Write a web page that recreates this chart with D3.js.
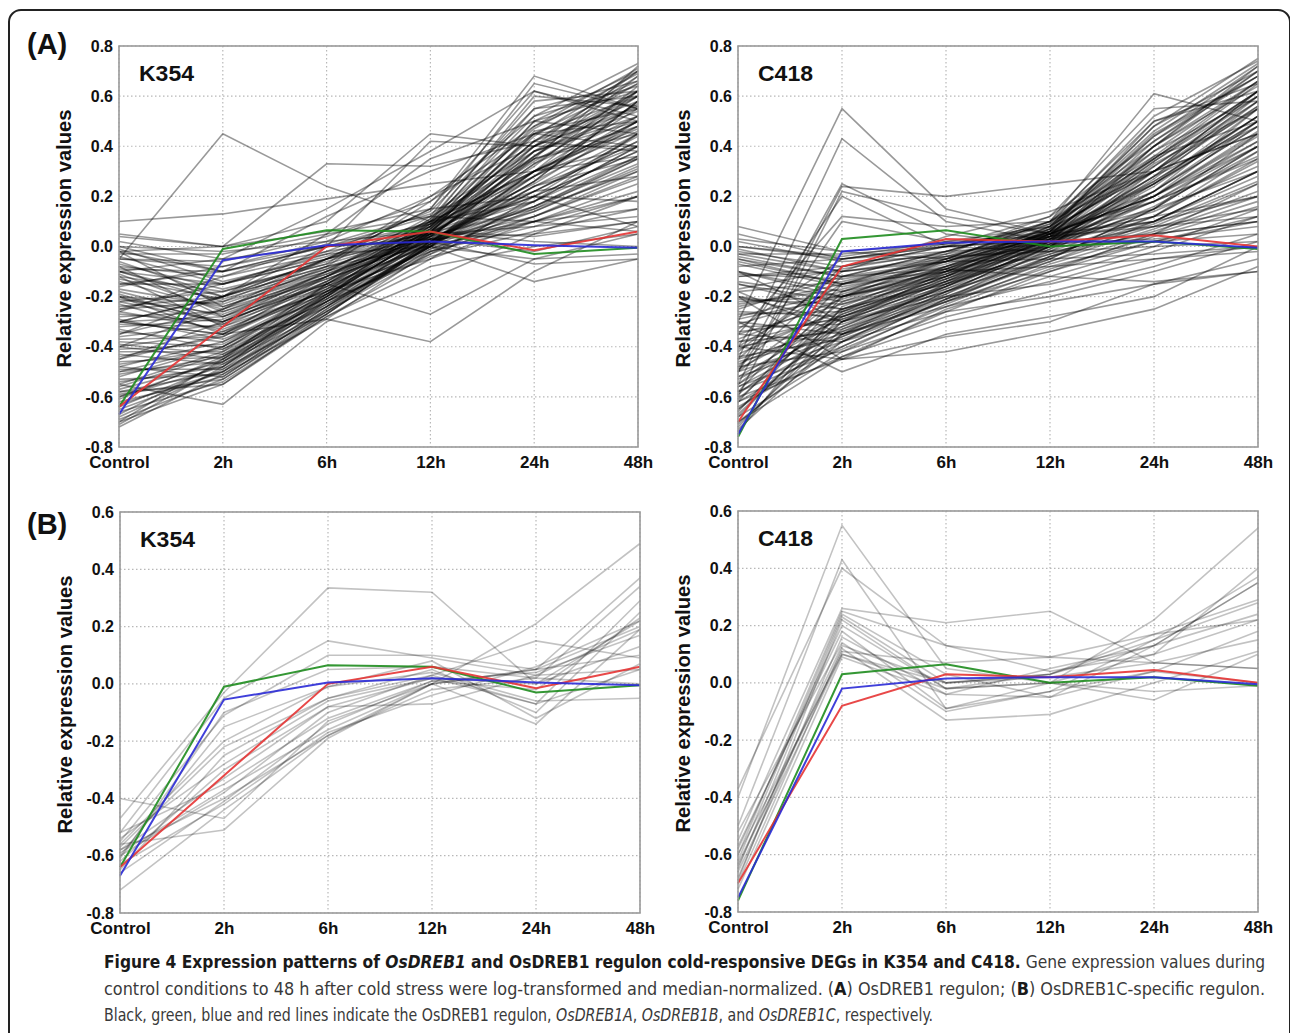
<!DOCTYPE html>
<html>
<head>
<meta charset="utf-8">
<script src="https://cdn.jsdelivr.net/npm/d3@7"></script>
<style>
  body { margin: 0; background: #fff; }
  svg { display: block; }
  .tick-label { font-family: "Liberation Sans", Arial, sans-serif; font-weight: bold; fill: #111; }
  .caption { font-family: "Liberation Sans Narrow", "DejaVu Sans Condensed", "Liberation Sans", sans-serif; font-size: 18px; fill: #3a3a3a; }
</style>
</head>
<body>
<script>
// time points on the x axis
const timePoints = ["Control", "2h", "6h", "12h", "24h", "48h"];
const yTicksA = [-0.8, -0.6, -0.4, -0.2, 0.0, 0.2, 0.4, 0.6, 0.8];
const yTicksB = [-0.8, -0.6, -0.4, -0.2, 0.0, 0.2, 0.4, 0.6];

// OsDREB1A / 1B / 1C profiles (same genes in A and B)
const k354Dreb1A = [-0.64, -0.01, 0.065, 0.06, -0.03, -0.005];
const k354Dreb1B = [-0.67, -0.055, 0.005, 0.02, 0.005, -0.005];
const k354Dreb1C = [-0.64, -0.32, 0.0, 0.06, -0.015, 0.06];
const c418Dreb1A = [-0.76, 0.03, 0.065, 0.0, 0.02, -0.01];
const c418Dreb1B = [-0.75, -0.02, 0.015, 0.02, 0.02, -0.005];
const c418Dreb1C = [-0.70, -0.08, 0.03, 0.02, 0.045, 0.0];

// (A) OsDREB1 regulon, K354
const k354Regulon = [
  [0.10, 0.13, 0.19, 0.25, 0.30, 0.36], [-0.05, 0.45, 0.24, 0.10, 0.30, 0.50],
  [-0.55, -0.63, -0.30, -0.13, 0.05, 0.20], [-0.02, 0.00, 0.33, 0.32, 0.42, 0.38],
  [-0.30, -0.35, -0.29, -0.38, -0.10, 0.10], [-0.20, -0.30, -0.15, -0.27, -0.05, 0.05],
  [0.05, 0.00, 0.10, 0.45, 0.40, 0.55], [-0.10, -0.05, 0.15, 0.38, 0.62, 0.50],
  [-0.40, -0.25, -0.05, 0.15, 0.68, 0.55], [-0.30, -0.20, -0.08, 0.00, -0.14, -0.05],
  [-0.02, -0.10, -0.02, 0.05, 0.20, 0.45], [-0.04, -0.15, -0.05, 0.08, 0.30, 0.55],
  [-0.06, -0.20, -0.08, 0.04, 0.15, 0.35], [-0.08, -0.12, -0.03, 0.10, 0.40, 0.62],
  [-0.10, -0.22, -0.10, 0.02, 0.12, 0.30], [-0.12, -0.18, -0.06, 0.06, 0.25, 0.50],
  [-0.14, -0.25, -0.12, 0.03, 0.22, 0.42], [-0.16, -0.08, 0.00, 0.12, 0.35, 0.48],
  [-0.18, -0.28, -0.15, 0.00, 0.10, 0.25], [-0.20, -0.23, -0.09, 0.07, 0.45, 0.65],
  [-0.22, -0.30, -0.14, 0.05, 0.28, 0.58], [-0.24, -0.20, -0.05, 0.10, 0.18, 0.40],
  [-0.26, -0.33, -0.18, -0.02, 0.08, 0.20], [-0.28, -0.26, -0.11, 0.04, 0.33, 0.60],
  [-0.30, -0.35, -0.16, 0.08, 0.50, 0.70], [-0.32, -0.29, -0.13, 0.02, 0.14, 0.32],
  [-0.34, -0.38, -0.20, 0.00, 0.24, 0.45], [-0.36, -0.31, -0.12, 0.06, 0.38, 0.52],
  [-0.38, -0.40, -0.19, 0.03, 0.20, 0.38], [-0.40, -0.34, -0.14, 0.09, 0.55, 0.66],
  [-0.42, -0.42, -0.22, -0.04, 0.06, 0.15], [-0.44, -0.36, -0.15, 0.05, 0.30, 0.62],
  [-0.46, -0.44, -0.21, 0.02, 0.26, 0.48], [-0.48, -0.38, -0.17, 0.07, 0.42, 0.58],
  [-0.50, -0.46, -0.24, 0.01, 0.16, 0.35], [-0.52, -0.40, -0.18, 0.04, 0.35, 0.72],
  [-0.54, -0.48, -0.23, 0.00, 0.22, 0.42], [-0.56, -0.43, -0.20, 0.06, 0.46, 0.55],
  [-0.58, -0.50, -0.26, -0.03, 0.12, 0.28], [-0.60, -0.45, -0.19, 0.05, 0.32, 0.64],
  [-0.62, -0.52, -0.25, 0.02, 0.28, 0.50], [-0.64, -0.47, -0.22, 0.03, 0.40, 0.60],
  [-0.66, -0.54, -0.28, -0.05, 0.10, 0.22], [-0.68, -0.49, -0.21, 0.04, 0.36, 0.68],
  [-0.70, -0.55, -0.27, 0.01, 0.18, 0.45], [-0.72, -0.51, -0.24, 0.05, 0.50, 0.62],
  [0.00, -0.02, 0.02, 0.06, 0.04, 0.10], [0.02, -0.05, 0.00, 0.03, -0.02, 0.08],
  [-0.03, -0.03, 0.05, 0.12, 0.10, 0.15], [0.04, 0.00, 0.06, 0.15, 0.20, 0.18],
  [-0.05, -0.06, 0.04, 0.18, 0.45, 0.40], [-0.15, -0.10, 0.00, 0.02, -0.07, -0.05],
  [-0.25, -0.15, -0.03, 0.00, -0.05, -0.03], [-0.35, -0.20, -0.05, 0.06, 0.02, 0.00],
  [-0.45, -0.30, -0.10, 0.12, 0.65, 0.55], [-0.25, -0.22, -0.05, 0.15, 0.62, 0.52],
  [-0.55, -0.42, -0.15, 0.10, 0.60, 0.56], [-0.15, -0.15, -0.02, 0.14, 0.55, 0.60],
  [-0.60, -0.48, -0.20, 0.06, 0.20, 0.08], [-0.10, -0.15, -0.05, 0.03, 0.05, 0.10],
  [-0.30, -0.28, -0.10, 0.05, 0.08, 0.12], [-0.50, -0.40, -0.16, 0.03, 0.10, 0.06],
  [-0.65, -0.50, -0.22, 0.00, 0.30, 0.40], [-0.05, -0.08, 0.02, 0.20, 0.40, 0.70],
  [-0.35, -0.25, -0.08, 0.18, 0.52, 0.73], [-0.20, -0.35, -0.17, 0.01, 0.24, 0.35],
  [-0.40, -0.45, -0.23, -0.02, 0.15, 0.30], [-0.08, -0.28, -0.12, 0.06, 0.35, 0.45],
  [-0.12, -0.32, -0.18, -0.05, 0.20, 0.38], [-0.02, -0.24, -0.10, 0.10, 0.30, 0.48],
  [-0.70, -0.45, -0.15, 0.08, 0.45, 0.50], [-0.58, -0.55, -0.28, -0.08, 0.00, 0.05],
  [-0.48, -0.52, -0.25, 0.00, 0.38, 0.62], [-0.22, -0.18, -0.07, 0.20, 0.48, 0.66],
  [-0.10, -0.20, 0.05, 0.35, 0.50, 0.45], [0.00, -0.10, 0.12, 0.30, 0.45, 0.60],
  [-0.30, -0.20, 0.00, 0.42, 0.40, 0.40],
  [-0.01, -0.14, -0.04, 0.09, 0.28, 0.52], [-0.07, -0.17, -0.07, 0.05, 0.18, 0.40],
  [-0.11, -0.26, -0.13, 0.02, 0.26, 0.58], [-0.13, -0.21, -0.09, 0.08, 0.42, 0.68],
  [-0.17, -0.24, -0.11, 0.04, 0.16, 0.33], [-0.19, -0.31, -0.16, 0.01, 0.30, 0.50],
  [-0.21, -0.27, -0.12, 0.09, 0.36, 0.62], [-0.23, -0.34, -0.19, -0.01, 0.12, 0.27],
  [-0.27, -0.30, -0.15, 0.06, 0.40, 0.56], [-0.29, -0.37, -0.21, 0.02, 0.22, 0.44],
  [-0.31, -0.32, -0.14, 0.11, 0.47, 0.69], [-0.33, -0.41, -0.22, -0.03, 0.18, 0.36],
  [-0.37, -0.36, -0.17, 0.07, 0.34, 0.57], [-0.39, -0.43, -0.24, 0.00, 0.28, 0.46],
  [-0.41, -0.39, -0.18, 0.08, 0.44, 0.70], [-0.43, -0.47, -0.26, -0.01, 0.14, 0.31],
  [-0.47, -0.41, -0.19, 0.05, 0.36, 0.60], [-0.49, -0.49, -0.27, 0.02, 0.24, 0.40],
  [-0.51, -0.44, -0.20, 0.10, 0.52, 0.64], [-0.53, -0.51, -0.29, -0.02, 0.10, 0.20],
  [-0.57, -0.46, -0.22, 0.04, 0.33, 0.52], [-0.59, -0.53, -0.27, 0.01, 0.26, 0.58],
  [-0.61, -0.44, -0.18, 0.09, 0.48, 0.71], [-0.63, -0.50, -0.24, 0.00, 0.16, 0.36],
  [-0.67, -0.46, -0.20, 0.06, 0.38, 0.54], [-0.69, -0.53, -0.26, 0.02, 0.30, 0.47],
  [-0.71, -0.48, -0.19, 0.07, 0.42, 0.65], [-0.09, -0.10, 0.00, 0.09, 0.22, 0.28],
  [-0.26, -0.12, 0.01, 0.13, 0.38, 0.50], [-0.45, -0.35, -0.12, 0.11, 0.58, 0.62]
];

// (A) OsDREB1 regulon, C418
const c418Regulon = [
  [-0.30, 0.55, 0.15, 0.05, 0.20, 0.40], [-0.45, 0.43, 0.10, 0.02, 0.25, 0.50],
  [-0.50, 0.25, 0.05, 0.00, 0.15, 0.30], [-0.55, 0.24, 0.20, 0.25, 0.30, 0.45],
  [-0.60, 0.22, 0.12, 0.05, 0.10, 0.20], [-0.40, 0.20, 0.00, -0.02, 0.05, 0.10],
  [-0.35, 0.12, 0.08, 0.10, 0.30, 0.55], [-0.50, 0.10, 0.02, 0.04, 0.08, 0.15],
  [0.08, -0.02, -0.05, 0.00, 0.02, 0.05], [-0.40, -0.45, -0.42, -0.34, -0.25, -0.08],
  [-0.30, -0.50, -0.35, -0.28, -0.20, 0.00], [-0.20, -0.45, -0.36, -0.30, -0.15, -0.10],
  [-0.50, -0.20, -0.05, 0.10, 0.61, 0.50], [-0.10, -0.30, -0.20, -0.15, -0.05, 0.00],
  [-0.02, -0.08, -0.03, 0.04, 0.15, 0.45], [-0.04, -0.12, -0.06, 0.06, 0.25, 0.55],
  [-0.06, -0.15, -0.08, 0.02, 0.10, 0.30], [-0.08, -0.05, 0.00, 0.08, 0.35, 0.65],
  [-0.10, -0.18, -0.10, 0.00, 0.08, 0.25], [-0.12, -0.10, -0.04, 0.05, 0.20, 0.50],
  [-0.15, -0.22, -0.12, 0.03, 0.28, 0.60], [-0.18, -0.14, -0.05, 0.10, 0.40, 0.70],
  [-0.20, -0.25, -0.14, -0.02, 0.12, 0.35], [-0.23, -0.17, -0.07, 0.06, 0.32, 0.58],
  [-0.26, -0.28, -0.16, 0.00, 0.18, 0.42], [-0.29, -0.20, -0.09, 0.04, 0.25, 0.52],
  [-0.32, -0.31, -0.18, -0.04, 0.06, 0.20], [-0.35, -0.23, -0.10, 0.07, 0.45, 0.68],
  [-0.38, -0.34, -0.20, -0.06, 0.10, 0.30], [-0.41, -0.26, -0.11, 0.05, 0.35, 0.62],
  [-0.44, -0.37, -0.22, -0.08, 0.02, 0.12], [-0.47, -0.29, -0.13, 0.03, 0.22, 0.48],
  [-0.50, -0.36, -0.18, 0.00, 0.30, 0.58], [-0.53, -0.32, -0.15, 0.04, 0.40, 0.72],
  [-0.56, -0.40, -0.21, -0.05, 0.15, 0.40], [-0.59, -0.27, -0.12, 0.06, 0.50, 0.65],
  [-0.62, -0.38, -0.19, 0.02, 0.26, 0.52], [-0.65, -0.30, -0.14, 0.05, 0.38, 0.60],
  [-0.68, -0.42, -0.23, -0.07, 0.05, 0.18], [-0.71, -0.33, -0.16, 0.03, 0.33, 0.55],
  [-0.74, -0.24, -0.08, 0.08, 0.48, 0.75], [-0.66, -0.20, -0.06, 0.04, 0.20, 0.45],
  [-0.58, -0.15, -0.04, 0.07, 0.30, 0.62], [-0.45, -0.08, 0.00, 0.03, 0.12, 0.38],
  [0.00, -0.05, -0.02, 0.01, 0.03, 0.08], [0.02, -0.06, -0.04, -0.02, 0.00, 0.02],
  [-0.03, -0.10, -0.06, -0.05, -0.03, 0.00], [-0.05, -0.12, -0.09, -0.12, -0.14, -0.10],
  [0.05, -0.05, 0.00, 0.02, 0.05, 0.10], [-0.30, -0.35, -0.22, -0.10, 0.05, 0.25],
  [-0.20, -0.30, -0.18, -0.05, 0.15, 0.40], [-0.60, -0.45, -0.25, -0.12, 0.00, 0.15],
  [-0.70, -0.38, -0.18, 0.00, 0.25, 0.50], [-0.10, -0.20, -0.12, 0.00, 0.22, 0.55],
  [-0.55, -0.22, -0.08, 0.06, 0.42, 0.70], [-0.25, -0.12, -0.02, 0.10, 0.50, 0.62],
  [-0.40, -0.15, -0.03, 0.12, 0.55, 0.58], [-0.65, -0.35, -0.15, 0.02, 0.18, 0.35],
  [-0.15, -0.25, -0.15, -0.03, 0.10, 0.28], [-0.48, -0.42, -0.28, -0.18, -0.08, 0.05],
  [-0.35, -0.38, -0.26, -0.20, -0.10, 0.02], [-0.62, -0.44, -0.30, -0.22, -0.15, -0.05],
  [-0.72, -0.30, -0.10, 0.05, 0.36, 0.66], [-0.05, -0.15, -0.10, 0.02, 0.28, 0.48],
  [-0.52, -0.28, -0.14, 0.01, 0.20, 0.42], [-0.45, -0.32, -0.16, 0.00, 0.32, 0.60],
  [-0.68, -0.26, -0.09, 0.08, 0.46, 0.73], [-0.28, -0.18, -0.06, 0.04, 0.12, 0.20],
  [-0.58, -0.36, -0.20, -0.04, 0.08, 0.12], [-0.38, -0.28, -0.12, 0.05, 0.26, 0.52],
  [0.00, -0.04, 0.02, 0.08, 0.35, 0.62], [-0.12, -0.08, 0.00, 0.12, 0.42, 0.68],
  [-0.22, -0.20, -0.10, -0.08, -0.05, -0.02], [-0.42, -0.10, 0.04, 0.14, 0.30, 0.45],
  [-0.01, -0.10, -0.05, 0.05, 0.22, 0.50], [-0.07, -0.16, -0.09, 0.03, 0.18, 0.40],
  [-0.11, -0.13, -0.06, 0.07, 0.30, 0.62], [-0.14, -0.20, -0.11, 0.02, 0.14, 0.32],
  [-0.17, -0.09, -0.02, 0.09, 0.38, 0.66], [-0.21, -0.23, -0.13, 0.01, 0.24, 0.52],
  [-0.24, -0.15, -0.06, 0.08, 0.44, 0.72], [-0.27, -0.26, -0.15, -0.01, 0.16, 0.38],
  [-0.31, -0.19, -0.08, 0.05, 0.34, 0.60], [-0.34, -0.29, -0.17, -0.03, 0.09, 0.26],
  [-0.37, -0.21, -0.09, 0.06, 0.40, 0.66], [-0.40, -0.33, -0.19, -0.02, 0.20, 0.46],
  [-0.43, -0.25, -0.11, 0.04, 0.28, 0.56], [-0.46, -0.35, -0.21, -0.06, 0.07, 0.22],
  [-0.49, -0.27, -0.12, 0.07, 0.48, 0.70], [-0.52, -0.38, -0.22, -0.04, 0.12, 0.34],
  [-0.55, -0.30, -0.14, 0.03, 0.30, 0.56], [-0.58, -0.41, -0.24, -0.09, 0.04, 0.16],
  [-0.61, -0.25, -0.10, 0.06, 0.44, 0.68], [-0.64, -0.40, -0.21, -0.01, 0.22, 0.48],
  [-0.67, -0.28, -0.13, 0.04, 0.34, 0.62], [-0.70, -0.44, -0.26, -0.10, 0.02, 0.10],
  [-0.73, -0.35, -0.17, 0.01, 0.27, 0.58], [-0.62, -0.18, -0.05, 0.09, 0.52, 0.74],
  [-0.33, -0.05, 0.01, 0.06, 0.18, 0.36], [-0.03, -0.03, 0.00, 0.03, 0.10, 0.30],
  [0.03, -0.02, 0.01, 0.05, 0.20, 0.44], [-0.18, -0.35, -0.24, -0.14, -0.02, 0.12],
  [-0.48, -0.12, -0.02, 0.10, 0.36, 0.50], [-0.56, -0.34, -0.16, 0.02, 0.40, 0.64]
];

// (B) OsDREB1C-specific regulon, K354
const k354Specific = [
  [-0.47, -0.03, 0.335, 0.32, 0.00, 0.22], [-0.52, -0.05, 0.15, 0.09, 0.03, 0.05],
  [-0.55, -0.11, 0.10, 0.10, 0.05, 0.20], [-0.40, -0.47, -0.13, 0.00, 0.21, 0.49],
  [-0.56, -0.51, -0.19, 0.00, 0.05, 0.37], [-0.58, -0.40, -0.18, -0.02, 0.02, 0.34],
  [-0.60, -0.38, -0.10, 0.03, 0.15, 0.09], [-0.62, -0.30, -0.08, 0.02, -0.07, 0.29],
  [-0.65, -0.25, -0.05, 0.05, -0.10, 0.25], [-0.72, -0.44, -0.18, 0.00, -0.14, 0.19],
  [-0.56, -0.20, -0.01, 0.08, -0.12, 0.07], [-0.60, -0.15, -0.01, 0.04, -0.06, -0.05],
  [-0.52, -0.35, -0.12, 0.01, 0.04, 0.17], [-0.63, -0.42, -0.17, -0.04, 0.06, 0.22],
  [-0.58, -0.33, -0.08, -0.07, 0.03, 0.19], [-0.54, -0.28, -0.06, 0.02, 0.00, 0.13],
  [-0.66, -0.41, -0.14, 0.01, -0.02, 0.23], [-0.61, -0.10, 0.05, 0.06, 0.02, 0.00],
  [-0.59, -0.37, -0.16, 0.00, 0.05, 0.10], [-0.57, -0.22, -0.05, 0.03, -0.07, 0.05]
];

// (B) OsDREB1C-specific regulon, C418
const c418Specific = [
  [-0.40, 0.55, 0.05, 0.00, 0.22, 0.54], [-0.50, 0.43, -0.09, -0.03, 0.15, 0.37],
  [-0.55, 0.26, 0.21, 0.25, 0.07, 0.05], [-0.60, 0.25, 0.13, 0.09, 0.17, 0.29],
  [-0.62, 0.24, 0.03, -0.05, 0.13, 0.35], [-0.65, 0.23, 0.00, 0.03, 0.15, 0.28],
  [-0.58, 0.20, -0.02, 0.00, 0.10, 0.22], [-0.68, 0.16, -0.04, 0.05, 0.13, 0.24],
  [-0.52, 0.14, -0.10, -0.03, 0.04, 0.18], [-0.70, 0.12, -0.13, -0.11, 0.00, 0.11],
  [-0.63, 0.11, 0.07, 0.09, 0.07, 0.15], [-0.66, 0.10, -0.02, 0.00, -0.06, 0.10],
  [-0.72, 0.09, -0.04, -0.05, 0.04, 0.00], [-0.60, 0.10, 0.00, 0.03, 0.13, 0.35],
  [-0.57, 0.18, -0.09, 0.00, -0.03, -0.01], [-0.64, 0.13, 0.00, 0.02, 0.07, 0.05],
  [-0.69, 0.22, -0.02, 0.03, 0.17, 0.22], [-0.37, 0.40, 0.13, 0.04, 0.10, 0.40]
];

const width = 1290, height = 1033;
const svg = d3.select("body").append("svg")
    .attr("width", width)
    .attr("height", height);

// outer rounded frame, cut by the right and bottom edge
svg.append("rect")
    .attr("x", 9).attr("y", 10)
    .attr("width", 1281).attr("height", 1060)
    .attr("rx", 12)
    .attr("fill", "none")
    .attr("stroke", "#222")
    .attr("stroke-width", 2);

const panels = [
  { x0: 119, x1: 638, y0: 46, y1: 447, ticks: yTicksA, title: "K354", genes: k354Regulon, alpha: 0.4, a: k354Dreb1A, b: k354Dreb1B, c: k354Dreb1C },
  { x0: 738, x1: 1258, y0: 46, y1: 447, ticks: yTicksA, title: "C418", genes: c418Regulon, alpha: 0.4, a: c418Dreb1A, b: c418Dreb1B, c: c418Dreb1C },
  { x0: 120, x1: 640, y0: 512, y1: 913, ticks: yTicksB, title: "K354", genes: k354Specific, alpha: 0.24, a: k354Dreb1A, b: k354Dreb1B, c: k354Dreb1C },
  { x0: 738, x1: 1258, y0: 511, y1: 912, ticks: yTicksB, title: "C418", genes: c418Specific, alpha: 0.24, a: c418Dreb1A, b: c418Dreb1B, c: c418Dreb1C }
];

function drawPanel(p) {
    const x = d3.scalePoint().domain(timePoints).range([p.x0, p.x1]);
    const y = d3.scaleLinear().domain(d3.extent(p.ticks)).range([p.y1, p.y0]);
    const g = svg.append("g");

    // dotted grid
    g.selectAll("line.hgrid").data(p.ticks).join("line")
        .attr("class", "hgrid")
        .attr("x1", p.x0).attr("x2", p.x1)
        .attr("y1", d => y(d)).attr("y2", d => y(d))
        .attr("stroke", "#b8b8b8").attr("stroke-width", 1.2)
        .attr("stroke-dasharray", "1.5,2.5");
    g.selectAll("line.vgrid").data(timePoints).join("line")
        .attr("class", "vgrid")
        .attr("x1", d => x(d)).attr("x2", d => x(d))
        .attr("y1", p.y0).attr("y2", p.y1)
        .attr("stroke", "#b8b8b8").attr("stroke-width", 1.2)
        .attr("stroke-dasharray", "1.5,2.5");

    const line = d3.line()
        .x((d, i) => x(timePoints[i]))
        .y(d => y(d));

    g.selectAll("path.gene").data(p.genes).join("path")
        .attr("class", "gene")
        .attr("d", line)
        .attr("fill", "none")
        .attr("stroke", "#000")
        .attr("stroke-opacity", p.alpha)
        .attr("stroke-width", 1.6);

    [[p.a, "#1e8c1e"], [p.c, "#e53434"], [p.b, "#2a2ad6"]].forEach(([vals, col]) => {
        g.append("path")
            .attr("d", line(vals))
            .attr("fill", "none")
            .attr("stroke", col)
            .attr("stroke-width", 2)
            .attr("stroke-opacity", 0.9);
    });

    // plot frame
    g.append("rect")
        .attr("x", p.x0).attr("y", p.y0)
        .attr("width", p.x1 - p.x0).attr("height", p.y1 - p.y0)
        .attr("fill", "none")
        .attr("stroke", "#9a9a9a")
        .attr("stroke-width", 1.6);

    const yAxis = g.append("g")
        .attr("transform", `translate(${p.x0},0)`)
        .call(d3.axisLeft(y).tickValues(p.ticks).tickSize(0).tickPadding(6)
            .tickFormat(d => (Math.abs(d) < 1e-9 ? 0 : d).toFixed(1)));
    yAxis.select(".domain").remove();
    yAxis.selectAll("text").attr("class", "tick-label").style("font-size", "16px");

    const xAxis = g.append("g")
        .attr("transform", `translate(0,${p.y1})`)
        .call(d3.axisBottom(x).tickSize(0).tickPadding(9));
    xAxis.select(".domain").remove();
    xAxis.selectAll("text").attr("class", "tick-label").style("font-size", "17px");

    g.append("text")
        .attr("class", "tick-label")
        .attr("transform", `translate(${p.x0 - 48},${(p.y0 + p.y1) / 2 - 8}) rotate(-90)`)
        .attr("text-anchor", "middle")
        .attr("textLength", 258)
        .attr("lengthAdjust", "spacingAndGlyphs")
        .style("font-size", "20px")
        .text("Relative expression values");

    g.append("text")
        .attr("class", "tick-label")
        .attr("x", p.x0 + 20).attr("y", p.y0 + 35)
        .attr("textLength", 55)
        .attr("lengthAdjust", "spacingAndGlyphs")
        .style("font-size", "22px")
        .text(p.title);
}

panels.forEach(drawPanel);

svg.append("text").attr("class", "tick-label")
    .attr("x", 27).attr("y", 54).style("font-size", "29px").text("(A)");
svg.append("text").attr("class", "tick-label")
    .attr("x", 27).attr("y", 534).style("font-size", "29px").text("(B)");

// caption: each line is squeezed horizontally to the width it has in the figure
const capX = 104;
function captionLine(yPos, target, parts) {
    const t = svg.append("text").attr("class", "caption");
    parts.forEach(([str, bold, ital]) => {
        t.append("tspan")
            .style("font-weight", bold ? "bold" : "normal")
            .style("font-style", ital ? "italic" : "normal")
            .style("fill", bold ? "#1a1a1a" : null)
            .text(str);
    });
    const natural = t.node().getComputedTextLength();
    const sx = target / natural;
    t.attr("transform", `translate(${capX},${yPos}) scale(${sx},1)`);
}
captionLine(968, 1162, [
    ["Figure 4 Expression patterns of ", true], ["OsDREB1", true, true],
    [" and OsDREB1 regulon cold-responsive DEGs in K354 and C418.", true],
    [" Gene expression values during"]
]);
captionLine(995, 1162, [
    ["control conditions to 48 h after cold stress were log-transformed and median-normalized. ("],
    ["A", true], [") OsDREB1 regulon; ("], ["B", true], [") OsDREB1C-specific regulon."]
]);
captionLine(1021, 830, [
    ["Black, green, blue and red lines indicate the OsDREB1 regulon, "], ["OsDREB1A", false, true],
    [", "], ["OsDREB1B", false, true], [", and "], ["OsDREB1C", false, true], [", respectively."]
]);
</script>
</body>
</html>
